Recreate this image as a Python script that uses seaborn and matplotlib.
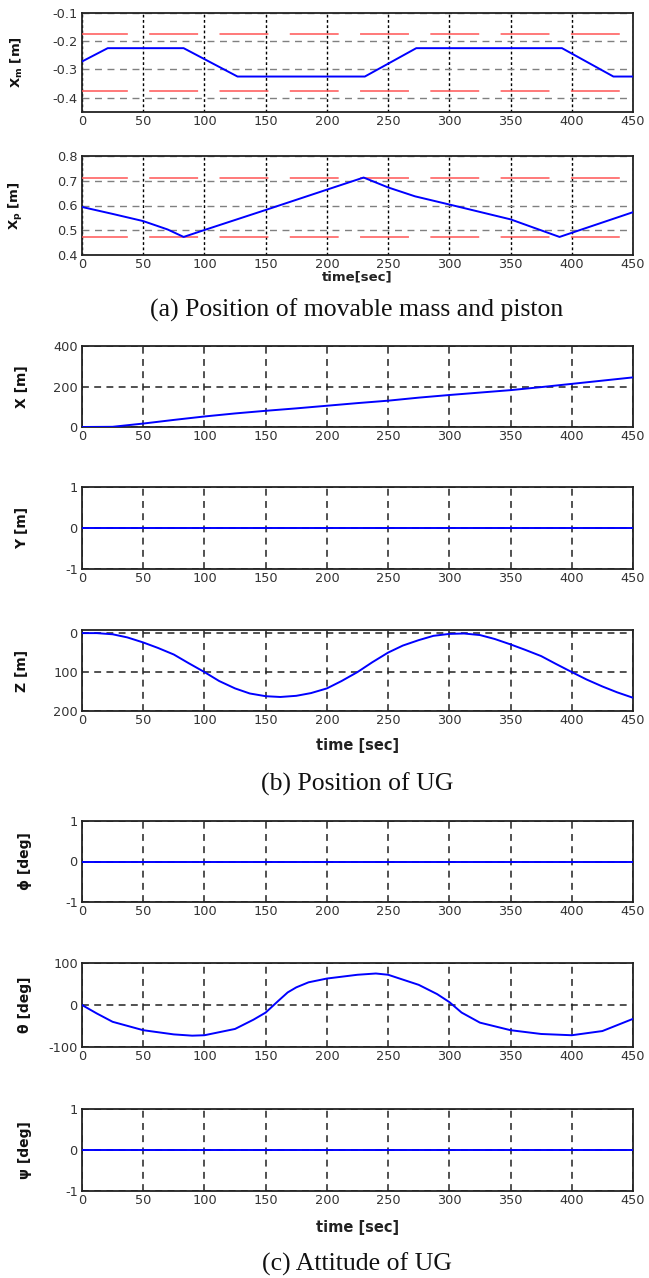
import pandas as pd
import matplotlib
matplotlib.use("Agg")
import matplotlib.pyplot as plt
import seaborn as sns

# (a) movable mass / piston position
t_xm = [0, 21, 83, 127, 231, 273, 392, 434, 450]
xm = [-0.272, -0.225, -0.225, -0.325, -0.325, -0.225, -0.225, -0.325, -0.325]
xm_limits = [-0.175, -0.375]

t_xp = [0, 25, 50, 70, 83, 100, 150, 200, 230, 250, 272, 300, 350, 390, 450]
xp = [0.594, 0.566, 0.537, 0.503, 0.473, 0.501, 0.582, 0.664, 0.713, 0.673,
      0.637, 0.604, 0.544, 0.473, 0.573]
xp_limits = [0.713, 0.473]

# (b) position of UG
t_pos = [0, 25, 50, 75, 100, 125, 150, 175, 200, 225, 250, 275, 300, 325,
         350, 375, 400, 425, 450]
pos_x = [0, 1, 17, 35, 52, 67, 80, 92, 105, 118, 130, 145, 158, 170, 182,
         197, 213, 229, 245]
t_z = [0, 12, 25, 37, 50, 62, 75, 87, 100, 112, 125, 137, 150, 162, 175, 187,
       200, 212, 225, 237, 250, 262, 275, 287, 300, 312, 325, 337, 350, 362,
       375, 387, 400, 412, 425, 437, 450]
pos_z = [0, 0, 3, 11, 24, 38, 55, 77, 100, 123, 142, 155, 162, 164, 161, 154,
         142, 123, 100, 75, 50, 32, 18, 7, 2, 1, 5, 15, 29, 43,
         59, 79, 100, 119, 137, 152, 166]
t_flat = [0, 450]
pos_y = [0, 0]

# (c) attitude of UG
t_theta = [0, 12, 25, 50, 75, 90, 100, 125, 140, 150, 160, 168, 175, 185, 200,
           225, 240, 250, 275, 290, 300, 310, 325, 350, 375, 400, 425, 450]
theta = [0, -20, -40, -60, -70, -73, -72, -57, -35, -18, 9, 30, 42, 54, 63,
         72, 75, 72, 48, 26, 7, -18, -42, -60, -69, -72, -62, -33]
phi = [0, 0]
psi = [0, 0]

xticks = list(range(0, 451, 50))

sns.set_theme(style="white")
plt.rcParams["font.family"] = ["DejaVu Sans"]
plt.rcParams["mathtext.fontset"] = "custom"
plt.rcParams["mathtext.bf"] = "DejaVu Sans:bold"
plt.rcParams["mathtext.rm"] = "DejaVu Sans"
plt.rcParams["axes.unicode_minus"] = False

W, H = 649, 1278
fig = plt.figure(figsize=(W / 100, H / 100), dpi=100)
left = 82 / W
width = 551 / W


def make_ax(top_px, bot_px):
    return fig.add_axes([left, 1 - bot_px / H, width, (bot_px - top_px) / H])


def style_ax(ax, ylim, yticks, ylabel, ylab_x=-0.096, ysize=10, fine_grid=False):
    ax.set_xlim(0, 450)
    ax.set_ylim(*ylim)
    ax.set_xticks(xticks)
    ax.set_yticks(yticks)
    ax.tick_params(direction="in", length=4, width=1, colors="#333333",
                   labelsize=9.3, pad=3)
    ax.tick_params(axis="x", pad=2)
    for s in ax.spines.values():
        s.set_color("#222222")
        s.set_linewidth(1.3)
        s.set_visible(True)
    if fine_grid:
        ax.xaxis.grid(True, color="black", linestyle=(0, (2, 1.8)), linewidth=1.0)
        ax.yaxis.grid(True, color="#808080", linestyle=(0, (5, 4)), linewidth=1.0)
    else:
        ax.grid(True, color="#222222", linestyle=(0, (4.5, 3.5)), linewidth=1.1)
    ax.set_axisbelow(True)
    ax.set_xlabel("")
    ax.set_ylabel(ylabel, fontsize=ysize, fontweight="bold", color="#111111")
    ax.yaxis.set_label_coords(ylab_x, 0.5)


def blue(ax, t, v):
    df = pd.DataFrame({"t": t, "v": v})
    sns.lineplot(data=df, x="t", y="v", ax=ax, color="#0000ff", linewidth=1.4,
                 zorder=4)


def limits(ax, vals):
    for v in vals:
        ax.axhline(v, color="#ff5555", linewidth=1.1,
                   linestyle=(2, (32, 14)), zorder=3)


# (a)
ax1 = make_ax(12.7, 112)
blue(ax1, t_xm, xm)
limits(ax1, xm_limits)
style_ax(ax1, (-0.45, -0.1), [-0.4, -0.3, -0.2, -0.1],
         r"$\mathbf{X_m}$ [m]", ylab_x=-0.103, ysize=9.5, fine_grid=True)
ax1.set_yticklabels(["-0.4", "-0.3", "-0.2", "-0.1"])

ax2 = make_ax(156, 255)
blue(ax2, t_xp, xp)
limits(ax2, xp_limits)
style_ax(ax2, (0.4, 0.8), [0.4, 0.5, 0.6, 0.7, 0.8],
         r"$\mathbf{X_p}$ [m]", ylab_x=-0.103, ysize=9.5, fine_grid=True)
ax2.set_xlabel("time[sec]", fontsize=9.5, fontweight="bold", color="#222222")
ax2.xaxis.set_label_coords(0.5, -0.16)

# (b)
ax3 = make_ax(346, 427)
blue(ax3, t_pos, pos_x)
style_ax(ax3, (0, 400), [0, 200, 400], "X [m]")

ax4 = make_ax(487, 569)
blue(ax4, t_flat, pos_y)
style_ax(ax4, (-1, 1), [-1, 0, 1], "Y [m]")

ax5 = make_ax(630, 711)
blue(ax5, t_z, pos_z)
style_ax(ax5, (200, -8), [0, 100, 200], "Z [m]")
ax5.set_xlabel("time [sec]", fontsize=10.5, fontweight="bold", color="#222222")
ax5.xaxis.set_label_coords(0.5, -0.33)

# (c)
ax6 = make_ax(821, 902)
blue(ax6, t_flat, phi)
style_ax(ax6, (-1, 1), [-1, 0, 1], "ϕ [deg]", ylab_x=-0.09)

ax7 = make_ax(963, 1047)
blue(ax7, t_theta, theta)
style_ax(ax7, (-100, 100), [-100, 0, 100], "θ [deg]", ylab_x=-0.09)

ax8 = make_ax(1109, 1191)
blue(ax8, t_flat, psi)
style_ax(ax8, (-1, 1), [-1, 0, 1], "ψ [deg]", ylab_x=-0.09)
ax8.set_xlabel("time [sec]", fontsize=10.5, fontweight="bold", color="#222222")
ax8.xaxis.set_label_coords(0.5, -0.35)

cx = 357 / W
cap = dict(ha="center", va="center", fontsize=18.5, family=["Liberation Serif"],
           color="#111111")
fig.text(cx, 1 - 310 / H, "(a) Position of movable mass and piston", **cap)
fig.text(cx, 1 - 784 / H, "(b) Position of UG", **cap)
fig.text(cx, 1 - 1264 / H, "(c) Attitude of UG", **cap)

fig.savefig("out.png", dpi=100)
